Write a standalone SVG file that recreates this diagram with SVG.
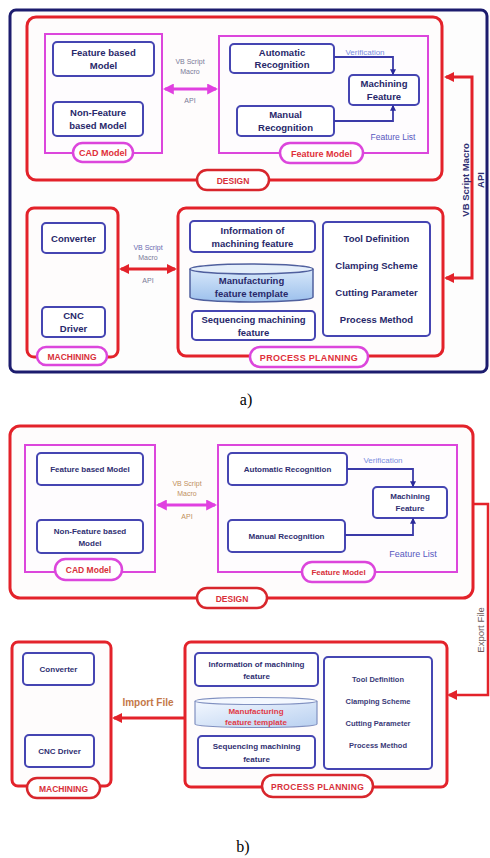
<svg xmlns="http://www.w3.org/2000/svg" width="490" height="858" viewBox="0 0 490 858">
<defs>
<style>
.frame{fill:#fdfdfd;stroke:#1c1c6e;stroke-width:3}
.red{fill:#fefcfc;stroke:#e3222a;stroke-width:3}
.mag{fill:#fefcfe;stroke:#dc46dc;stroke-width:2}
.box{fill:#fff;stroke:#4545b2;stroke-width:2}
.pm{fill:#fff;stroke:#dc46dc;stroke-width:2.5}
.pr{fill:#fff;stroke:#d8262c;stroke-width:2.5}
text{font-family:"Liberation Sans",Arial,sans-serif;text-anchor:middle}
.t{font-size:9.5px;font-weight:bold;fill:#28286a}
.tb{font-size:8px;font-weight:bold;fill:#2f2f72}
.tc{font-size:7.5px;font-weight:bold;fill:#3a3a78}
.pl{font-size:9px;font-weight:bold;fill:#e0303a}
.pl2{font-size:8.5px;font-weight:bold;fill:#d8303a}
.sm{font-size:7px;fill:#7a7a98}
.smb{font-size:7px;fill:#c0905c}
.ver{font-size:8px;fill:#7a8ee0}
.fl{font-size:8.5px;fill:#5858c0}
.rot{font-size:9.5px;font-weight:bold;fill:#2f2f72}
.cap{font-family:"Liberation Serif","Times New Roman",serif;font-size:16px;fill:#000}
.cr{fill:none;stroke:#e3222a;stroke-width:3}
.cm{fill:none;stroke:#e040e0;stroke-width:3}
.cb{fill:none;stroke:#3a3aa8;stroke-width:1.8}
</style>
<marker id="ar" viewBox="0 0 10 10" refX="8" refY="5" markerWidth="10" markerHeight="10" markerUnits="userSpaceOnUse" orient="auto-start-reverse"><path d="M0,0 L10,5 L0,10 Z" fill="#e3222a"/></marker>
<marker id="am" viewBox="0 0 10 10" refX="8" refY="5" markerWidth="11" markerHeight="11" markerUnits="userSpaceOnUse" orient="auto-start-reverse"><path d="M0,0 L10,5 L0,10 Z" fill="#e040e0"/></marker>
<marker id="ab" viewBox="0 0 10 10" refX="8" refY="5" markerWidth="6" markerHeight="6" markerUnits="userSpaceOnUse" orient="auto"><path d="M0,0 L10,5 L0,10 Z" fill="#2a2a9a"/></marker>
<linearGradient id="cylA" x1="0" y1="0" x2="0" y2="1"><stop offset="0" stop-color="#d8e8fa"/><stop offset="1" stop-color="#9cc0ec"/></linearGradient>
<linearGradient id="cylB" x1="0" y1="0" x2="1" y2="1"><stop offset="0" stop-color="#f4f8ff"/><stop offset="1" stop-color="#b8d0f0"/></linearGradient>
</defs>
<rect width="490" height="858" fill="#fff"/>

<!-- Panel a -->
<g id="a-frame"><rect class="frame" x="10" y="10" width="477" height="362" rx="6"/></g>
<g id="a-design"><rect class="red" x="27" y="17" width="415" height="163" rx="9"/></g>
<g id="a-cad"><rect class="mag" x="45" y="34" width="117" height="119"/></g>
<g id="a-featmodel"><rect class="mag" x="219" y="36" width="209" height="117"/></g>
<g id="a-fbm"><rect class="box" x="53" y="42" width="101" height="34" rx="4"/><text class="t" x="103.5" y="56">Feature based</text><text class="t" x="103.5" y="69">Model</text></g>
<g id="a-nfbm"><rect class="box" x="53" y="102" width="90" height="34" rx="4"/><text class="t" x="98" y="116">Non-Feature</text><text class="t" x="98" y="129">based Model</text></g>
<g id="a-auto"><rect class="box" x="230" y="44" width="104" height="29" rx="4"/><text class="t" x="282" y="56">Automatic</text><text class="t" x="282" y="68">Recognition</text></g>
<g id="a-manual"><rect class="box" x="237" y="106" width="97" height="30" rx="4"/><text class="t" x="285.5" y="118">Manual</text><text class="t" x="285.5" y="131">Recognition</text></g>
<g id="a-mf"><rect class="box" x="349" y="75" width="70" height="30" rx="4"/><text class="t" x="384" y="87">Machining</text><text class="t" x="384" y="100">Feature</text></g>
<g id="a-cadpill"><rect class="pm" x="73" y="143" width="60" height="19" rx="9.5"/><text class="pl" x="103" y="156">CAD Model</text></g>
<g id="a-fmpill"><rect class="pm" x="280" y="143" width="83" height="20" rx="10"/><text class="pl" x="321.5" y="156.5">Feature Model</text></g>
<g id="a-designpill"><rect class="pr" x="197" y="170" width="72" height="20" rx="10"/><text class="pl2" x="233" y="183.5">DESIGN</text></g>

<g id="a-machining"><rect class="red" x="27" y="208" width="91" height="149" rx="7"/></g>
<g id="a-conv"><rect class="box" x="42" y="223" width="63" height="30" rx="4"/><text class="t" x="73.5" y="242">Converter</text></g>
<g id="a-cnc"><rect class="box" x="42" y="307" width="63" height="30" rx="4"/><text class="t" x="73.5" y="319">CNC</text><text class="t" x="73.5" y="332">Driver</text></g>
<g id="a-machpill"><rect class="pm" x="37" y="347" width="70" height="18" rx="9"/><text class="pl2" x="72" y="359.5">MACHINING</text></g>

<g id="a-pp"><rect class="red" x="178" y="208" width="265" height="148" rx="8"/></g>
<g id="a-info"><rect class="box" x="190" y="221" width="125" height="31" rx="4"/><text class="t" x="252.5" y="234">Information of</text><text class="t" x="252.5" y="247">machining feature</text></g>
<g id="a-mft"><path d="M190,269 V297 A61.5,5 0 0 0 313,297 V269" fill="url(#cylA)" stroke="#50609e" stroke-width="1.5"/><ellipse cx="251.5" cy="269" rx="61.5" ry="5" fill="#e4eefa" stroke="#50609e" stroke-width="1.5"/><text class="t" x="251.5" y="284">Manufacturing</text><text class="t" x="251.5" y="297">feature template</text></g>
<g id="a-seq"><rect class="box" x="192" y="311" width="123" height="29" rx="4"/><text class="t" x="253.5" y="323">Sequencing machining</text><text class="t" x="253.5" y="336">feature</text></g>
<g id="a-params"><rect class="box" x="323" y="222" width="107" height="114" rx="4"/><text class="t" x="376.5" y="242">Tool Definition</text><text class="t" x="376.5" y="269">Clamping Scheme</text><text class="t" x="376.5" y="296">Cutting Parameter</text><text class="t" x="376.5" y="323">Process Method</text></g>
<g id="a-pppill"><rect class="pm" x="250" y="347" width="118" height="20" rx="10"/><text class="pl" x="309" y="360.5" letter-spacing="0.3">PROCESS PLANNING</text></g>

<g id="a-connectors">
<line class="cm" x1="165" y1="89" x2="216" y2="89" marker-start="url(#am)" marker-end="url(#am)"/>
<text class="sm" x="190" y="64">VB Script</text><text class="sm" x="190" y="74">Macro</text><text class="sm" x="190" y="103">API</text>
<path class="cb" d="M334,57 H393 V74" marker-end="url(#ab)"/>
<path class="cb" d="M334,121 H393 V106" marker-end="url(#ab)"/>
<text class="ver" x="365" y="55">Verification</text>
<text class="fl" x="393" y="140">Feature List</text>
<line class="cr" x1="121" y1="269" x2="175" y2="269" marker-start="url(#ar)" marker-end="url(#ar)"/>
<text class="sm" x="148" y="250" style="fill:#6a6ab0">VB Script</text><text class="sm" x="148" y="260">Macro</text><text class="sm" x="148" y="283">API</text>
<path class="cr" d="M446,278 H472 V77 H446" marker-start="url(#ar)" marker-end="url(#ar)"/>
<text class="rot" transform="translate(469,180) rotate(-90)">VB Script Macro</text>
<text class="rot" transform="translate(484,180) rotate(-90)">API</text>
</g>

<text class="cap" x="246" y="405">a)</text>

<!-- Panel b -->
<g id="b-design"><rect class="red" x="10" y="426" width="463" height="172" rx="10"/></g>
<g id="b-cad"><rect class="mag" x="25" y="445" width="130" height="127"/></g>
<g id="b-featmodel"><rect class="mag" x="218" y="445" width="239" height="127"/></g>
<g id="b-fbm"><rect class="box" x="37" y="453" width="106" height="32" rx="4"/><text class="tb" x="90" y="472">Feature based Model</text></g>
<g id="b-nfbm"><rect class="box" x="37" y="520" width="106" height="33" rx="4"/><text class="tb" x="90" y="534">Non-Feature based</text><text class="tb" x="90" y="546">Model</text></g>
<g id="b-auto"><rect class="box" x="228" y="453" width="119" height="32" rx="4"/><text class="tb" x="287.5" y="472">Automatic Recognition</text></g>
<g id="b-manual"><rect class="box" x="228" y="520" width="117" height="32" rx="4"/><text class="tb" x="286.5" y="539">Manual Recognition</text></g>
<g id="b-mf"><rect class="box" x="373" y="487" width="74" height="31" rx="4"/><text class="tb" x="410" y="499">Machining</text><text class="tb" x="410" y="511">Feature</text></g>
<g id="b-cadpill"><rect class="pm" x="55" y="559" width="67" height="21" rx="10.5"/><text class="pl2" x="88.5" y="572.5">CAD Model</text></g>
<g id="b-fmpill"><rect class="pm" x="302" y="562" width="73" height="20" rx="10"/><text class="pl2" x="338.5" y="575" style="font-size:8px">Feature Model</text></g>
<g id="b-designpill"><rect class="pr" x="197" y="588" width="70" height="20" rx="10"/><text class="pl2" x="232" y="601.5">DESIGN</text></g>

<g id="b-machining"><rect class="red" x="12" y="642" width="99" height="144" rx="6"/></g>
<g id="b-conv"><rect class="box" x="23" y="653" width="71" height="32" rx="4"/><text class="tb" x="58.5" y="672">Converter</text></g>
<g id="b-cnc"><rect class="box" x="25" y="735" width="69" height="32" rx="4"/><text class="tb" x="59.5" y="754">CNC Driver</text></g>
<g id="b-machpill"><rect class="pr" x="27" y="778" width="73" height="20" rx="10"/><text class="pl2" x="63.5" y="791.5">MACHINING</text></g>

<g id="b-pp"><rect class="red" x="185" y="642" width="262" height="145" rx="6"/></g>
<g id="b-info"><rect class="box" x="195" y="653" width="123" height="33" rx="4"/><text class="tb" x="256.5" y="667">Information of machining</text><text class="tb" x="256.5" y="679">feature</text></g>
<g id="b-mft"><path d="M195,701 V724 A61,3.5 0 0 0 317,724 V701" fill="url(#cylB)" stroke="#8090c0" stroke-width="1.2"/><ellipse cx="256" cy="701" rx="61" ry="3.5" fill="#f4f8ff" stroke="#8090c0" stroke-width="1.2"/><text class="tb" x="256" y="714" style="fill:#e03a48">Manufacturing</text><text class="tb" x="256" y="725" style="fill:#e03a48">feature template</text></g>
<g id="b-seq"><rect class="box" x="198" y="736" width="117" height="32" rx="4"/><text class="tb" x="256.5" y="749">Sequencing machining</text><text class="tb" x="256.5" y="762">feature</text></g>
<g id="b-params"><rect class="box" x="324" y="657" width="108" height="112" rx="4"/><text class="tc" x="378" y="682">Tool Definition</text><text class="tc" x="378" y="704">Clamping Scheme</text><text class="tc" x="378" y="726">Cutting Parameter</text><text class="tc" x="378" y="748">Process Method</text></g>
<g id="b-pppill"><rect class="pr" x="262" y="775" width="111" height="22" rx="11"/><text class="pl2" x="317.5" y="789.5" letter-spacing="0.3">PROCESS PLANNING</text></g>

<g id="b-connectors">
<line class="cm" x1="158" y1="505" x2="215" y2="505" marker-start="url(#am)" marker-end="url(#am)"/>
<text class="smb" x="187" y="486">VB Script</text><text class="smb" x="187" y="496">Macro</text><text class="smb" x="187" y="519">API</text>
<path class="cb" d="M347,469 H413 V486" marker-end="url(#ab)"/>
<path class="cb" d="M345,535 H413 V519" marker-end="url(#ab)"/>
<text class="ver" x="383" y="463">Verification</text>
<text class="fl" x="413" y="557" style="font-size:9px">Feature List</text>
<line class="cr" x1="184" y1="718" x2="114" y2="718" marker-end="url(#ar)"/>
<text x="148" y="706" style="font-size:10px;font-weight:bold;fill:#c47848">Import File</text>
<path class="cr" d="M473,504 H488 V695 H449" marker-end="url(#ar)" style="stroke-width:2.5"/>
<text transform="translate(483.5,630) rotate(-90)" style="font-size:9.5px;fill:#6a5a58">Export File</text>
</g>

<text class="cap" x="243" y="852">b)</text>
</svg>
